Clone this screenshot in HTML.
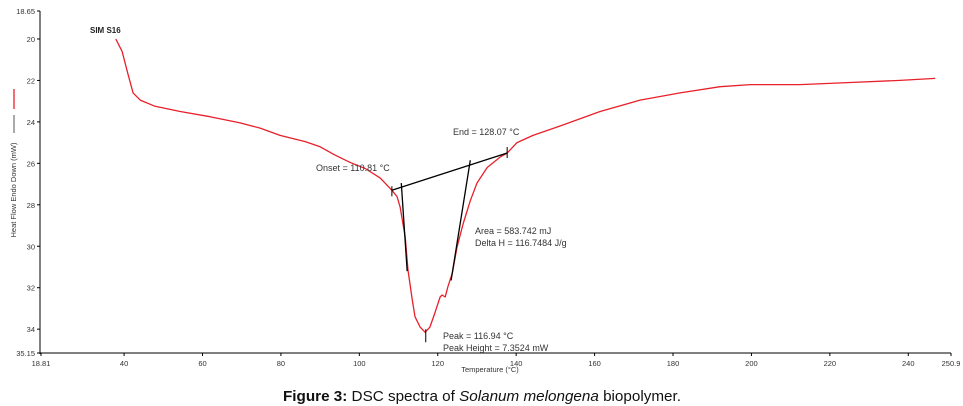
<!DOCTYPE html>
<html><head><meta charset="utf-8"><style>
html,body{margin:0;padding:0;background:#fff;width:963px;height:406px;overflow:hidden}
svg{display:block;font-family:"Liberation Sans",Arial,sans-serif}
</style></head><body>
<svg id="chart" width="963" height="406" viewBox="0 0 963 406">
<g id="axes"></g>
<g id="plot"></g>
<text x="90" y="33" font-size="8" font-weight="bold" fill="#222">SIM S16</text>
<text transform="translate(16,190) rotate(-90)" text-anchor="middle" font-size="7.5" fill="#333">Heat Flow Endo Down (mW)</text>
<line x1="14" y1="89" x2="14" y2="109" stroke="#e8202a" stroke-width="1.3"/>
<line x1="14" y1="115" x2="14" y2="133" stroke="#555" stroke-width="1"/>
<text x="490" y="372" text-anchor="middle" font-size="7.5" fill="#333">Temperature (°C)</text>
<text x="316" y="171" font-size="9" fill="#333">Onset = 110.81 °C</text>
<text x="453" y="135" font-size="9" fill="#333">End = 128.07 °C</text>
<text x="475" y="234" font-size="9" fill="#333">Area = 583.742 mJ</text>
<text x="475" y="246" font-size="9" fill="#333">Delta H = 116.7484 J/g</text>
<text x="443" y="339" font-size="9" fill="#333">Peak = 116.94 °C</text>
<text x="443" y="351" font-size="9" fill="#333">Peak Height = 7.3524 mW</text>
<text x="482" y="401" text-anchor="middle" font-size="15" fill="#111" textLength="398" lengthAdjust="spacingAndGlyphs"><tspan font-weight="bold">Figure 3:</tspan> DSC spectra of <tspan font-style="italic">Solanum melongena</tspan> biopolymer.</text>
</svg>
<script>
const temps=[37.9,39.5,41.0,42.3,44.1,47.9,54.3,61.9,69.6,74.7,79.8,86.2,90.0,93.8,97.6,101.5,105.3,107.8,108.3,109.6,110.4,111.7,112.4,113.5,114.2,115.5,116.8,118.0,119.3,120.6,121.1,121.9,122.6,123.7,124.9,126.5,128.3,130.0,132.6,135.9,137.7,140.2,144.3,151.2,161.4,171.6,181.8,192.0,199.7,212.4,225.2,237.9,246.9];
const heatFlow=[20.0,20.6,21.7,22.6,22.95,23.25,23.5,23.75,24.05,24.3,24.65,24.95,25.2,25.6,25.95,26.25,26.7,27.2,27.3,27.6,28.1,29.55,31.15,32.6,33.4,33.9,34.15,33.9,33.2,32.45,32.35,32.45,31.95,31.3,30.05,28.9,27.8,26.95,26.2,25.7,25.5,25.0,24.65,24.2,23.5,22.95,22.6,22.3,22.2,22.2,22.1,22.0,21.9];
const xTicks=[40,60,80,100,120,140,160,180,200,220,240];
const yTicks=[20,22,24,26,28,30,32,34];
const xLimits=[18.81,250.9];
const yLimits=[18.65,35.15];
const baselinePts=[[108.3,27.3],[137.7,25.5]];
const leftTangent=[[110.7,26.95],[112.2,31.2]];
const rightTangent=[[128.3,25.85],[123.4,31.65]];
const peakPoint=[116.94,34.15];

const X0=41,X1=951,Y0=11,Y1=353;
function sx(t){return X0+(t-xLimits[0])/(xLimits[1]-xLimits[0])*(X1-X0);}
function sy(v){return Y0+(v-yLimits[0])/(yLimits[1]-yLimits[0])*(Y1-Y0);}
const NS='http://www.w3.org/2000/svg';
function mk(tag,attrs,parent){const e=document.createElementNS(NS,tag);for(const k in attrs)e.setAttribute(k,attrs[k]);parent.appendChild(e);return e;}
const axes=document.getElementById('axes'),plot=document.getElementById('plot');

let e=mk('line',{x1:40,y1:Y0,x2:40,y2:Y1+1,stroke:'#000','stroke-width':1},axes);


e=mk('line',{x1:40,y1:Y1,x2:X1,y2:Y1,stroke:'#000','stroke-width':1},axes);



const xLabels=[xLimits[0]].concat(xTicks).concat([xLimits[1]]);
xLabels.forEach(t=>{
  const x=sx(t);
  const tk=mk('line',{x1:x,y1:Y1,x2:x,y2:Y1+3,stroke:'#000'},axes);
  
  
  const tx=mk('text',{x:x,y:Y1+13,'text-anchor':'middle','font-size':7.5,fill:'#333'},axes);
  tx.textContent=String(t);
  
  
});
const yLabels=[yLimits[0]].concat(yTicks).concat([yLimits[1]]);
yLabels.forEach(v=>{
  const y=sy(v);
  const tk=mk('line',{x1:37,y1:y,x2:40,y2:y,stroke:'#000'},axes);
  
  
  const tx=mk('text',{x:35,y:y+3,'text-anchor':'end','font-size':7.5,fill:'#333'},axes);
  tx.textContent=String(v);
  
  
});

const d=temps.map((t,i)=>(i?'L':'M')+sx(t).toFixed(1)+','+sy(heatFlow[i]).toFixed(1)).join(' ');
const curve=mk('path',{d:d,fill:'none',stroke:'#e8202a','stroke-width':1.3,'stroke-linejoin':'round'},plot);



function seg(p,q,name){const l=mk('line',{x1:sx(p[0]),y1:sy(p[1]),x2:sx(q[0]),y2:sy(q[1]),stroke:'#000','stroke-width':1.3},plot);

}
seg(baselinePts[0],baselinePts[1],'integration-baseline');
seg(leftTangent[0],leftTangent[1],'onset-tangent');
seg(rightTangent[0],rightTangent[1],'end-tangent');
function vtick(p,name,up,down){const x=sx(p[0]),y=sy(p[1]);const l=mk('line',{x1:x,y1:y-up,x2:x,y2:y+down,stroke:'#000','stroke-width':1},plot);

}
vtick(baselinePts[0],'onset-marker',4,6);
vtick(baselinePts[1],'end-marker',6,5);
vtick(peakPoint,'peak-marker',3,10);
</script>
</body></html>
